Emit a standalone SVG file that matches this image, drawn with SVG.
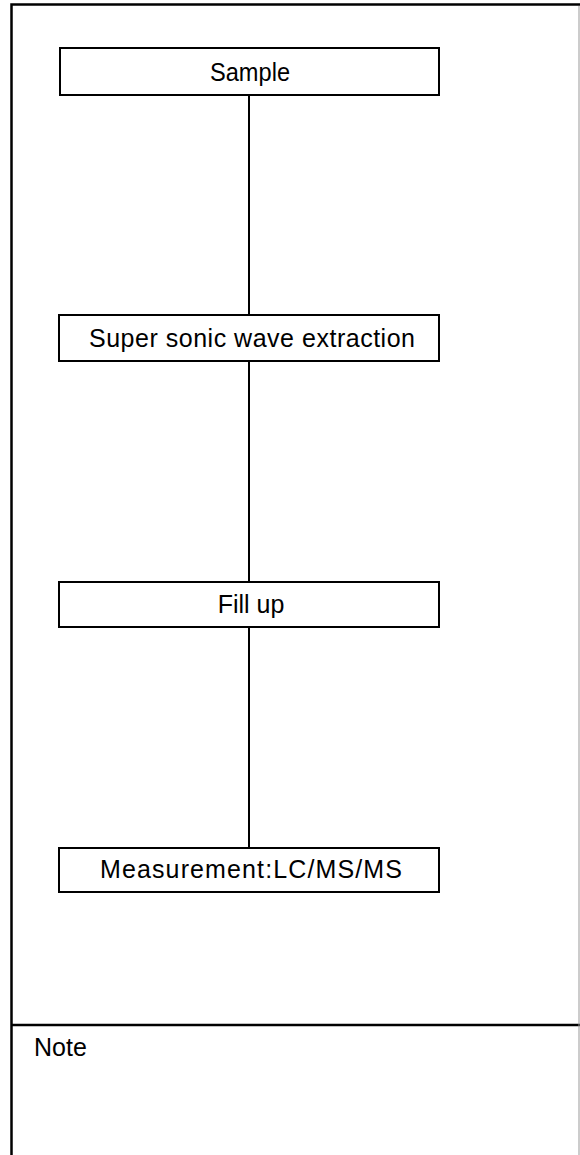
<svg xmlns="http://www.w3.org/2000/svg" width="580" height="1155" viewBox="0 0 580 1155">
<style>
.frame{fill:none;stroke:#000;stroke-width:2.5}
.box{fill:#fff;stroke:#000;stroke-width:2}
.conn{stroke:#000;stroke-width:2;fill:none}
.t{font-family:"Liberation Sans",Arial,sans-serif;font-size:25px;fill:#000}
.c{text-anchor:middle}
</style>
<rect width="580" height="1155" fill="#fff"/>
<g id="frame">
<path class="frame" d="M11.5,1155 V4.5 H580"/>
<path class="frame" d="M11.5,1025 H580"/>
<line x1="579" y1="6" x2="579" y2="1155" stroke="#999" stroke-width="1"/>
</g>
<g id="connectors">
<line class="conn" x1="249" y1="95" x2="249" y2="315"/>
<line class="conn" x1="249" y1="361" x2="249" y2="582"/>
<line class="conn" x1="249" y1="627" x2="249" y2="848"/>
</g>
<g id="sample">
<rect class="box" x="60" y="48" width="379" height="47"/>
<text class="t c" x="250" y="81" textLength="80" lengthAdjust="spacingAndGlyphs">Sample</text>
</g>
<g id="extraction">
<rect class="box" x="59" y="315" width="380" height="46"/>
<text class="t" x="89" y="347" textLength="326" lengthAdjust="spacing">Super sonic wave extraction</text>
</g>
<g id="fillup">
<rect class="box" x="59" y="582" width="380" height="45"/>
<text class="t c" x="251" y="613">Fill up</text>
</g>
<g id="measurement">
<rect class="box" x="59" y="848" width="380" height="44"/>
<text class="t" x="100" y="878" textLength="302" lengthAdjust="spacing">Measurement:LC/MS/MS</text>
</g>
<g id="note">
<text class="t" x="34" y="1056">Note</text>
</g>
</svg>
